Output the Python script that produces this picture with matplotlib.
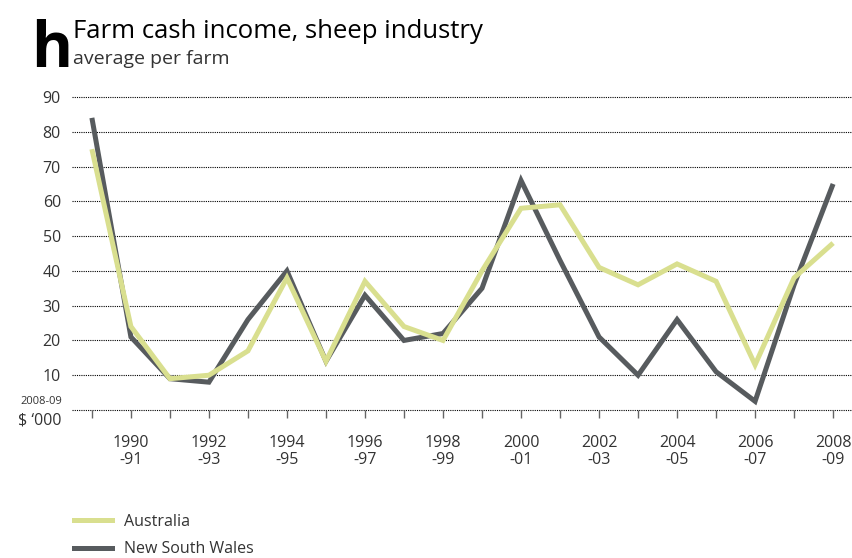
import matplotlib
matplotlib.use('Agg')
import matplotlib.pyplot as plt
from matplotlib.lines import Line2D

plt.rcParams['font.family'] = ['Open Sans', 'DejaVu Sans']

# financial years shown on the x axis
seasons = ['1989-90', '1990-91', '1991-92', '1992-93', '1993-94',
           '1994-95', '1995-96', '1996-97', '1997-98', '1998-99',
           '1999-00', '2000-01', '2001-02', '2002-03', '2003-04',
           '2004-05', '2005-06', '2006-07', '2007-08', '2008-09']

# $'000 per farm, 2008-09 dollars
australia = [75, 24, 9, 10, 17, 38, 14, 37, 24, 20,
             40, 58, 59, 41, 36, 42, 37, 13, 38, 48]
nsw = [84, 21, 9, 8, 26, 40, 14, 33, 20, 22,
       35, 66, 43, 21, 10, 26, 11, 2.5, 36, 65]

y_ticks = [10, 20, 30, 40, 50, 60, 70, 80, 90]

c_aus = '#d9df8f'
c_nsw = '#575b5e'
c_txt = '#333333'

W, H = 853, 558
fig = plt.figure(figsize=(W / 100, H / 100), dpi=100)
ax = fig.add_axes([72 / W, 1 - 410 / H, (W - 72) / W, (410 - 97) / H])

x = list(range(len(seasons)))

# dotted gridlines, including the zero line
for v in [0] + y_ticks:
    ax.axhline(v, color='black', linestyle=(0, (1, 1)), linewidth=0.8,
               zorder=1, clip_on=False)

ax.plot(x, nsw, color=c_nsw, linewidth=3.6, solid_joinstyle='miter',
        solid_capstyle='butt', zorder=3)
ax.plot(x, australia, color=c_aus, linewidth=3.6, solid_joinstyle='miter',
        solid_capstyle='butt', zorder=4)

ax.set_xlim(-0.51, 19.51)
ax.set_ylim(0, 90)

for s in ax.spines.values():
    s.set_visible(False)

x_labels = [s.replace('-', '\n-') if i % 2 == 1 else ''
            for i, s in enumerate(seasons)]
ax.set_xticks(x)
ax.set_xticklabels(x_labels, fontsize=11.5, color=c_txt, linespacing=1.1)
ax.tick_params(axis='x', length=6, width=1, color='#666666', pad=12)

ax.set_yticks(y_ticks)
ax.set_yticklabels([str(v) for v in y_ticks], fontsize=11.5, color=c_txt)
ax.tick_params(axis='y', length=0, pad=8)

# unit label in place of the zero tick
fig.text(62 / W, 1 - 402 / H, '2008-09', fontsize=8, color=c_txt,
         ha='right', va='center')
fig.text(62 / W, 1 - 421 / H, '$ \u2018000', fontsize=11.5, color=c_txt,
         ha='right', va='center')

# panel letter and titles
fig.text(31 / W, 1 - 67 / H, 'h', fontsize=45, fontweight='bold',
         color='black', ha='left', va='baseline')
fig.text(73 / W, 1 - 38 / H, 'Farm cash income, sheep industry',
         fontsize=18.5, color='black', ha='left', va='baseline')
fig.text(73 / W, 1 - 64 / H, 'average per farm', fontsize=14,
         color=c_txt, ha='left', va='baseline')

handles = [Line2D([], [], color=c_aus, linewidth=3.6),
           Line2D([], [], color=c_nsw, linewidth=3.6)]
fig.legend(handles, ['Australia', 'New South Wales'],
           loc='upper left', bbox_to_anchor=(66 / W, 1 - 506 / H),
           frameon=False, fontsize=11.5, handlelength=2.4,
           handletextpad=0.7, labelspacing=0.72, borderpad=0,
           labelcolor=c_txt)

fig.savefig('out.png', dpi=100)
